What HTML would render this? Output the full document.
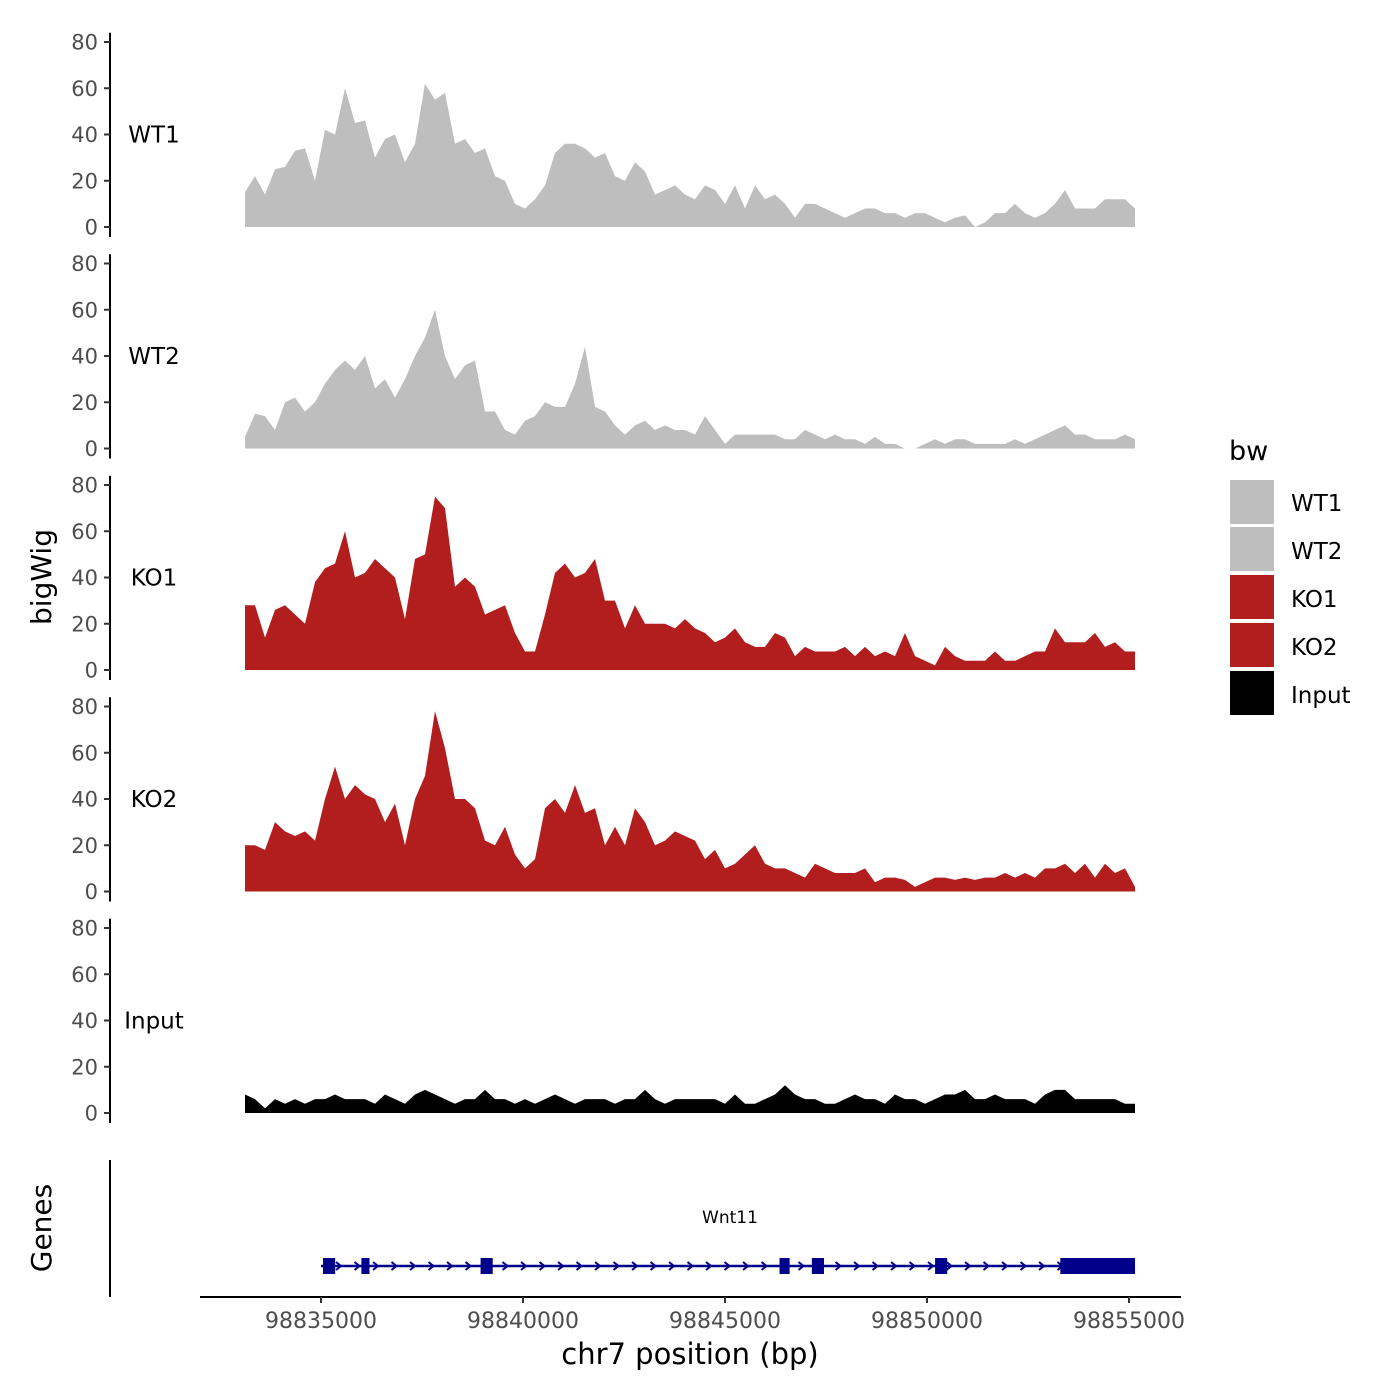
<!DOCTYPE html>
<html><head><meta charset="utf-8"><style>
html,body{margin:0;padding:0;background:#fff;}
svg{display:block;font-family:"DejaVu Sans","Liberation Sans",sans-serif;}
</style></head><body>
<svg id="chart" width="1400" height="1400" viewBox="0 0 1400 1400">
<g id="tracks"></g>
<g id="genes"></g>
<text x="51" y="577" font-size="28" text-anchor="middle" transform="rotate(-90 51 577)">bigWig</text>
<text x="51" y="1228" font-size="28" text-anchor="middle" transform="rotate(-90 51 1228)">Genes</text>
<text x="690" y="1364" font-size="29" text-anchor="middle">chr7 position (bp)</text>
<g>
<text x="1229" y="460" font-size="27">bw</text>
<rect x="1230" y="480" width="44" height="44" fill="#bebebe"/>
<text x="1291" y="511" font-size="23">WT1</text>
<rect x="1230" y="527" width="44" height="44" fill="#bebebe"/>
<text x="1291" y="559" font-size="23">WT2</text>
<rect x="1230" y="575" width="44" height="44" fill="#b21e1e"/>
<text x="1291" y="607" font-size="23">KO1</text>
<rect x="1230" y="623" width="44" height="44" fill="#b21e1e"/>
<text x="1291" y="655" font-size="23">KO2</text>
<rect x="1230" y="671" width="44" height="44" fill="#000"/>
<text x="1291" y="703" font-size="23">Input</text>
</g>
</svg>
<script>
const trackNames = ["WT1","WT2","KO1","KO2","Input"];
const trackColors = ["#bebebe","#bebebe","#b21e1e","#b21e1e","#000000"];
const yTicks = [0,20,40,60,80];
const xTicks = [98835000,98840000,98845000,98850000,98855000];
const dataStart = 98833119;
const dataEnd = 98855149;
const wt1 = [15,22,14,25,26,33,34,20,42,40,60,45,46,30,38,40,28,36,62,55,58,36,38,32,34,22,20,10,8,12,18,32,36,36,34,30,32,22,20,28,24,14,16,18,14,12,18,16,10,18,8,18,12,14,10,4,10,10,8,6,4,6,8,8,6,6,4,6,6,4,2,4,5,0,2,6,6,10,6,4,6,10,16,8,8,8,12,12,12,8];
const wt2 = [5,15,14,8,20,22,16,20,28,34,38,34,40,26,30,22,30,40,48,60,40,30,36,38,16,16,8,6,12,14,20,18,18,28,44,18,16,10,6,10,12,8,10,8,8,6,14,8,2,6,6,6,6,6,4,4,8,6,4,6,4,4,2,5,2,2,0,0,2,4,2,4,4,2,2,2,2,4,2,4,6,8,10,6,6,4,4,4,6,4];
const ko1 = [28,28,14,26,28,24,20,38,44,46,60,40,42,48,44,40,22,48,50,75,70,36,40,36,24,26,28,16,8,8,24,42,46,40,42,48,30,30,18,28,20,20,20,18,22,18,16,12,14,18,12,10,10,16,14,6,10,8,8,8,10,6,10,6,8,6,16,6,4,2,10,6,4,4,4,8,4,4,6,8,8,18,12,12,12,16,10,12,8,8];
const ko2 = [20,20,18,30,26,24,26,22,40,54,40,46,42,40,30,38,20,40,50,78,62,40,40,36,22,20,28,16,10,14,36,40,34,46,34,36,20,28,20,36,30,20,22,26,24,22,14,18,10,12,16,20,12,10,10,8,6,12,10,8,8,8,10,4,6,6,5,2,4,6,6,5,6,5,6,6,8,6,8,6,10,10,12,8,12,6,12,8,10,2];
const inputSig = [8,6,2,6,4,6,4,6,6,8,6,6,6,4,8,6,4,8,10,8,6,4,6,6,10,6,6,4,6,4,6,8,6,4,6,6,6,4,6,6,10,6,4,6,6,6,6,6,4,8,4,4,6,8,12,8,6,6,4,4,6,8,6,6,4,8,6,6,4,6,8,8,10,6,6,8,6,6,6,4,8,10,10,6,6,6,6,6,4,4];
const exonStarts = [98835050,98836000,98838950,98846350,98847150,98850200,98853300];
const exonEnds = [98835350,98836200,98839250,98846600,98847450,98850500,98855149];
const geneStart = 98835000, geneEnd = 98855149;

const NS="http://www.w3.org/2000/svg";
const series=[wt1,wt2,ko1,ko2,inputSig];
const xs = v => 321 + (v-98835000)*0.0404;
const panelBase = i => 227 + i*221.5;
const ys = (i,v) => panelBase(i) - v*2.3125;
function mk(tag,attrs,parent){const e=document.createElementNS(NS,tag);for(const k in attrs)e.setAttribute(k,attrs[k]);parent.appendChild(e);return e;}
const tracks=document.getElementById('tracks');
series.forEach((s,i)=>{
  const g=mk('g',{},tracks);
  
  
  const n=s.length;let d='M'+xs(dataStart)+','+panelBase(i);
  s.forEach((v,j)=>{const bp=dataStart+(dataEnd-dataStart)*j/(n-1);d+=' L'+xs(bp).toFixed(1)+','+ys(i,v).toFixed(1);});
  d+=' L'+xs(dataEnd)+','+panelBase(i)+' Z';
  const p=mk('path',{d:d,fill:trackColors[i]},g);
  
  
  const ax=mk('line',{x1:110,x2:110,y1:ys(i,84),y2:panelBase(i)+10,stroke:'#000','stroke-width':2},g);
  
  
  yTicks.forEach(t=>{
    const y=ys(i,t);
    const tk=mk('line',{x1:104,x2:110,y1:y,y2:y,stroke:'#333','stroke-width':2},g);
    
    
    const tl=mk('text',{x:98,y:y+7.5,'font-size':21,'text-anchor':'end',fill:'#4d4d4d'},g);
    tl.textContent=t;
    
    
  });
  const lab=mk('text',{x:154,y:ys(i,40)+8,'font-size':23,'text-anchor':'middle'},g);
  lab.textContent=trackNames[i];
  
  
});
const gg=document.getElementById('genes');
let e;
e=mk('line',{x1:110,x2:110,y1:1160,y2:1297,stroke:'#000','stroke-width':2},gg);


e=mk('line',{x1:200,x2:1181,y1:1297,y2:1297,stroke:'#000','stroke-width':2},gg);


xTicks.forEach(t=>{
  const x=xs(t);
  const tk=mk('line',{x1:x,x2:x,y1:1297,y2:1303,stroke:'#333','stroke-width':2},gg);
  
  
  const tl=mk('text',{x:x,y:1328,'font-size':22,'text-anchor':'middle',fill:'#4d4d4d'},gg);
  tl.textContent=t;
  
  
});
const gy=1266;
e=mk('line',{x1:xs(geneStart),x2:xs(geneEnd),y1:gy,y2:gy,stroke:'#00008b','stroke-width':2.5},gg);


for(let x=xs(geneStart)+18;x<xs(geneEnd)-5;x+=18.5){
  const c=mk('path',{d:`M${x-3},${gy-4} L${x+2},${gy} L${x-3},${gy+4}`,fill:'none',stroke:'#00008b','stroke-width':2},gg);
  
  
}
exonStarts.forEach((s,k)=>{
  const x1=xs(s),x2=xs(exonEnds[k]);
  const r=mk('rect',{x:x1,y:gy-8,width:Math.max(x2-x1,8),height:16,fill:'#00008b'},gg);
  
  
});
e=mk('text',{x:730,y:1223,'font-size':17,'text-anchor':'middle'},gg);
e.textContent='Wnt11';


</script>
</body></html>
